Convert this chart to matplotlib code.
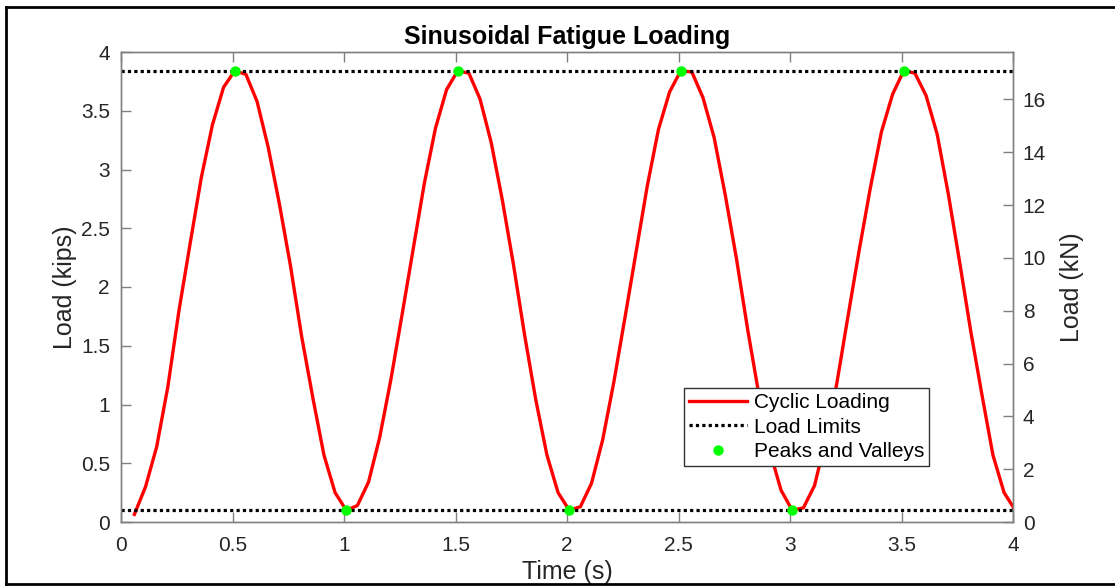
import matplotlib
matplotlib.use('Agg')
import matplotlib.pyplot as plt
from matplotlib.lines import Line2D
import numpy as np

plt.rcParams['font.family'] = ['Liberation Sans', 'DejaVu Sans']

# sample times (s), one every 0.05 s
time_s = np.round(np.arange(0.06, 4.02, 0.05), 2)

# cyclic load (kips)
load_kips = [
    0.065, 0.30, 0.64, 1.15, 1.80, 2.37, 2.93, 3.38, 3.70, 3.84,
    3.81, 3.58, 3.19, 2.71, 2.18, 1.58, 1.06, 0.57, 0.25, 0.10,
    0.14, 0.34, 0.72, 1.21, 1.76, 2.32, 2.88, 3.35, 3.68, 3.84,
    3.82, 3.60, 3.23, 2.74, 2.19, 1.59, 1.04, 0.57, 0.25, 0.10,
    0.13, 0.33, 0.70, 1.19, 1.74, 2.30, 2.86, 3.34, 3.66, 3.84,
    3.83, 3.61, 3.27, 2.78, 2.24, 1.64, 1.09, 0.60, 0.27, 0.10,
    0.12, 0.31, 0.70, 1.18, 1.75, 2.31, 2.84, 3.32, 3.64, 3.84,
    3.82, 3.63, 3.30, 2.79, 2.22, 1.63, 1.09, 0.57, 0.25, 0.10,
]

load_max = 3.84
load_min = 0.10

peak_times = [0.51, 1.51, 2.51, 3.51]
valley_times = [1.01, 2.01, 3.01]

kips_to_kn = 4.448
kn_ticks = [0, 2, 4, 6, 8, 10, 12, 14, 16]

text_col = '#262626'
axis_col = '#808080'

fig = plt.figure(figsize=(11.15, 5.86), dpi=100)
ax = fig.add_axes([121/1115, 1 - 522/586, 892/1115, 470/586])

ax.plot(time_s, load_kips, color='red', lw=2.4, label='Cyclic Loading',
        solid_joinstyle='round')
ax.plot([0, 4], [load_max, load_max], color='black', lw=2.3,
        linestyle=(0, (1, 1)), dash_capstyle='butt', label='Load Limits')
ax.plot([0, 4], [load_min, load_min], color='black', lw=2.3,
        linestyle=(0, (1, 1)), dash_capstyle='butt')
pv_t = peak_times + valley_times
pv_y = [load_max]*len(peak_times) + [load_min]*len(valley_times)
ax.plot(pv_t, pv_y, 'o', color=(0, 1, 0), ms=7.5, mec='none',
        label='Peaks and Valleys')

ax.set_xlim(0, 4)
ax.set_ylim(0, 4)
ax.set_xticks(np.arange(0, 4.01, 0.5))
ax.set_xticklabels(['0', '0.5', '1', '1.5', '2', '2.5', '3', '3.5', '4'])
ax.set_yticks(np.arange(0, 4.01, 0.5))
ax.set_yticklabels(['0', '0.5', '1', '1.5', '2', '2.5', '3', '3.5', '4'])
ax.tick_params(direction='in', length=7, width=1, colors=axis_col,
               labelcolor=text_col, labelsize=15, top=True)
ax.tick_params(axis='x', pad=10)
ax.tick_params(axis='y', pad=8)
for s in ax.spines.values():
    s.set_color(axis_col)
    s.set_linewidth(1)

ax.set_xlabel('Time (s)', fontsize=18, color=text_col, labelpad=4)
ax.set_ylabel('Load (kips)', fontsize=18, color=text_col, labelpad=3)
ax.set_title('Sinusoidal Fatigue Loading', fontsize=18, fontweight='bold',
             color='black', pad=6)

ax2 = ax.twinx()
ax2.set_ylim(0, 4*kips_to_kn)
ax2.set_yticks(kn_ticks)
ax2.tick_params(direction='in', length=7, width=1, colors=axis_col,
                labelcolor=text_col, labelsize=15, pad=7)
for s in ax2.spines.values():
    s.set_color(axis_col)
    s.set_linewidth(1)
ax2.set_ylabel('Load (kN)', fontsize=18, color=text_col, labelpad=10)

leg = ax.legend(loc='lower left', bbox_to_anchor=(0.631, 0.119),
                fontsize=15, frameon=True, fancybox=False,
                edgecolor='#333333', framealpha=1, handlelength=2.8,
                handletextpad=0.3, labelspacing=0.25, borderpad=0.25,
                borderaxespad=0)
leg.get_frame().set_linewidth(1)

# screenshot border
for xs, ys in [([6/1115, 1], [1 - 7/586]*2),
               ([6/1115]*2, [1 - 7/586, 1 - 584/586]),
               ([6/1115, 1], [1 - 584/586]*2)]:
    fig.add_artist(Line2D(xs, ys, color='black', lw=2,
                          transform=fig.transFigure))

fig.savefig('out.png', dpi=100)
